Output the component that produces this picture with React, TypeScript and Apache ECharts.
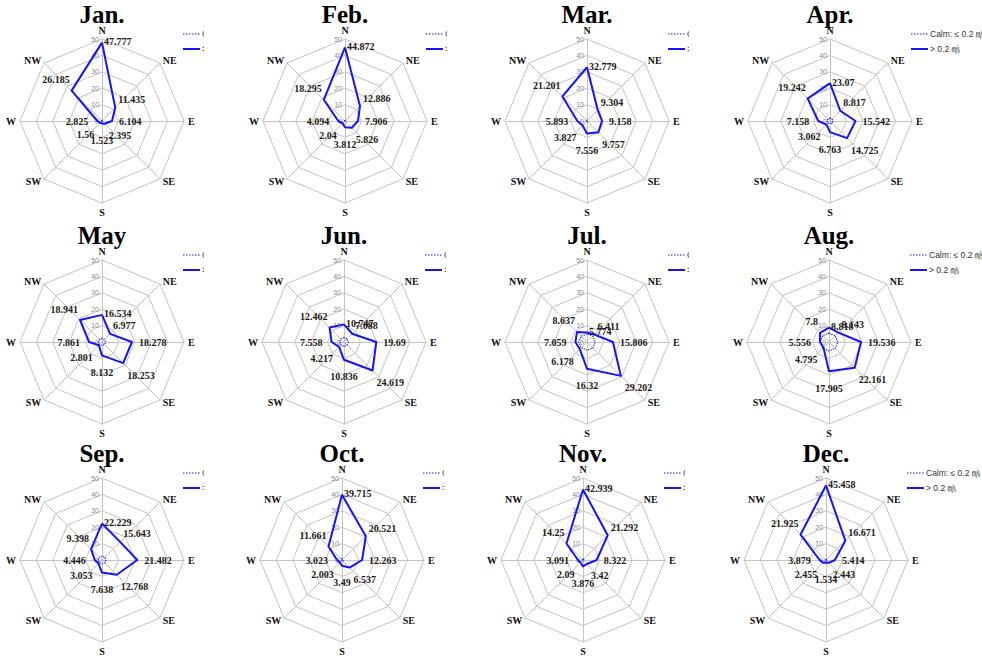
import React, { useEffect, useRef } from "react";
import * as echarts from "echarts";

// ---------- data ----------
const directions = ["N", "NE", "E", "SE", "S", "SW", "W", "NW"];
const months = ["Jan.", "Feb.", "Mar.", "Apr.", "May", "Jun.", "Jul.", "Aug.", "Sep.", "Oct.", "Nov.", "Dec."];
const legendNames = ["Calm: \u2264 0.2 \u33A7", "> 0.2 \u33A7"];
const radialMax = 50;

// values in order N, NE, E, SE, S, SW, W, NW
const jan = [47.777, 11.435, 6.104, 2.395, 1.523, 1.56, 2.825, 26.185];
const feb = [44.872, 12.886, 7.906, 5.826, 3.812, 2.04, 4.094, 18.295];
const mar = [32.779, 9.304, 9.158, 9.757, 7.556, 3.827, 5.893, 21.201];
const apr = [23.07, 8.817, 15.542, 14.725, 6.763, 3.062, 7.158, 19.242];
const may = [16.534, 6.977, 18.278, 18.253, 8.132, 2.801, 7.861, 18.941];
const jun = [10.747, 7.088, 19.69, 24.619, 10.836, 4.217, 7.558, 12.462];
const jul = [5.774, 6.411, 15.806, 29.202, 16.32, 6.178, 7.059, 8.637];
const aug = [8.818, 8.143, 19.536, 22.161, 17.905, 4.795, 5.556, 7.8];
const sep = [22.229, 15.643, 21.482, 12.768, 7.638, 3.053, 4.446, 9.398];
const oct = [39.715, 20.521, 12.263, 6.537, 3.49, 2.003, 3.023, 11.661];
const nov = [42.939, 21.292, 8.322, 3.42, 3.876, 2.09, 3.091, 14.25];
const dec = [45.458, 16.671, 5.414, 2.443, 1.534, 2.455, 3.879, 21.925];
const windValues = [jan, feb, mar, apr, may, jun, jul, aug, sep, oct, nov, dec];

// calm frequency (drawn equally in all directions)
const calmValues = [0.4, 0.4, 0.5, 1.8, 2.2, 2.7, 5.0, 5.4, 2.4, 0.8, 0.6, 0.4];

// ---------- layout / style ----------
const centersX = [
  [102, 345, 587, 830],
  [102, 344, 587, 829],
  [102, 342, 583, 826],
];
const centersY = [121, 342, 560];
const CLIP = 102;
const RADIUS = 82;
// ECharts radar goes counter-clockwise: N, NW, W, SW, S, SE, E, NE
const order = [0, 7, 6, 5, 4, 3, 2, 1];
const labelPlacement: any[] = [
  { position: "right", distance: 2, offset: [0, -1] },
  { position: "right", distance: 3, offset: [0, -8] },
  { position: "right", distance: 7, offset: [0, 0] },
  { position: "right", distance: 4, offset: [0, 12] },
  { position: "bottom", distance: 12, offset: [0, 0] },
  { position: "left", distance: 6, offset: [0, 12] },
  { position: "left", distance: 9, offset: [0, 0] },
  { position: "left", distance: 2, offset: [0, -11] },
];
const GRID = "#c4c4c4";
const BLUE = "#1414ff";
const SERIF = "'Liberation Serif', 'Times New Roman', serif";
const SANS = "'Liberation Sans Narrow', 'Liberation Sans', Arial, 'Noto Sans CJK SC', sans-serif";
const TICK_LABEL = { show: true, color: "#8c8c8c", fontSize: 7, margin: 3, fontFamily: "'Liberation Sans', Arial, sans-serif" };

function buildOption(m: number, ox: number, oy: number) {
  const vals = windValues[m];
  const calm = directions.map(() => calmValues[m]);
  const labelSeries = directions.map((_, d) => ({
    type: "radar",
    silent: true,
    z: 4,
    symbol: "circle",
    symbolSize: 0,
    lineStyle: { width: 0, opacity: 0 },
    itemStyle: { color: BLUE },
    label: {
      show: true,
      ...labelPlacement[d],
      fontFamily: SERIF,
      fontWeight: "bold",
      fontSize: 10,
      color: "#1e1a16",
      formatter: (p: any) => (p.value === 0 ? "" : String(p.value)),
    },
    data: [{ value: order.map((k) => (k === d ? vals[k] : 0)) }],
  }));
  return {
    animation: false,
    title: {
      text: months[m],
      left: ox,
      top: oy - 119,
      textAlign: "center",
      padding: 0,
      textStyle: { fontFamily: SERIF, fontWeight: "bold", fontSize: 25, color: "#000" },
    },
    radar: {
      center: [ox, oy],
      radius: RADIUS,
      startAngle: 90,
      splitNumber: 5,
      shape: "polygon",
      nameGap: 4,
      indicator: order.map((k, i) => ({
        name: directions[k],
        min: 0,
        max: radialMax,
        ...(i === 0 ? { axisLabel: { ...TICK_LABEL } } : {}),
      })),
      axisName: { color: "#111", fontFamily: SERIF, fontWeight: "bold", fontSize: 10 },
      axisLine: { lineStyle: { color: GRID, width: 1 } },
      splitLine: { lineStyle: { color: GRID, width: 1 } },
      splitArea: { show: false },
      axisTick: { show: false },
      axisLabel: { ...TICK_LABEL, show: false },
    },
    graphic: [
      { type: "line", shape: { x1: ox + 81, y1: oy - 87, x2: ox + 98, y2: oy - 87 }, style: { stroke: BLUE, lineWidth: 1.2, lineDash: [1.5, 1.5] } },
      { type: "line", shape: { x1: ox + 81, y1: oy - 72, x2: ox + 98, y2: oy - 72 }, style: { stroke: BLUE, lineWidth: 2 } },
      { type: "text", x: ox + 100, y: oy - 87, style: { text: legendNames[0], font: `8.5px ${SANS}`, fill: "#333", textVerticalAlign: "middle", verticalAlign: "middle" } },
      { type: "text", x: ox + 100, y: oy - 72, style: { text: legendNames[1], font: `8.5px ${SANS}`, fill: "#333", textVerticalAlign: "middle", verticalAlign: "middle" } },
    ],
    series: [
      {
        type: "radar",
        silent: true,
        z: 2,
        symbol: "none",
        lineStyle: { color: BLUE, width: 1.2, type: "dotted" },
        data: [{ name: legendNames[0], value: order.map((k) => calm[k]) }],
      },
      {
        type: "radar",
        silent: true,
        z: 3,
        symbol: "none",
        lineStyle: { color: BLUE, width: 2 },
        data: [{ name: legendNames[1], value: order.map((k) => vals[k]) }],
      },
      ...labelSeries,
    ],
  };
}

function RadarCell({ m }: { m: number }) {
  const ref = useRef<HTMLDivElement>(null);
  const r = Math.floor(m / 4);
  const c = m % 4;
  const cx = centersX[r][c];
  const cy = centersY[r];
  const left = c === 0 ? 0 : centersX[r][c - 1] + CLIP;
  const right = c === 3 ? 982 : cx + CLIP;
  const top = cy - 126;
  const width = right - left;
  const height = 240;
  useEffect(() => {
    const chart = echarts.init(ref.current as HTMLDivElement, undefined, { renderer: "svg" });
    chart.setOption(buildOption(m, cx - left, cy - top) as any);
    return () => chart.dispose();
  }, []);
  return <div ref={ref} style={{ position: "absolute", left, top, width, height, overflow: "hidden" }} />;
}

export default function App() {
  return (
    <div style={{ position: "fixed", left: 0, top: 0, width: 982, height: 658, background: "#fff", overflow: "hidden" }}>
      {months.map((_, m) => (
        <RadarCell key={m} m={m} />
      ))}
    </div>
  );
}
